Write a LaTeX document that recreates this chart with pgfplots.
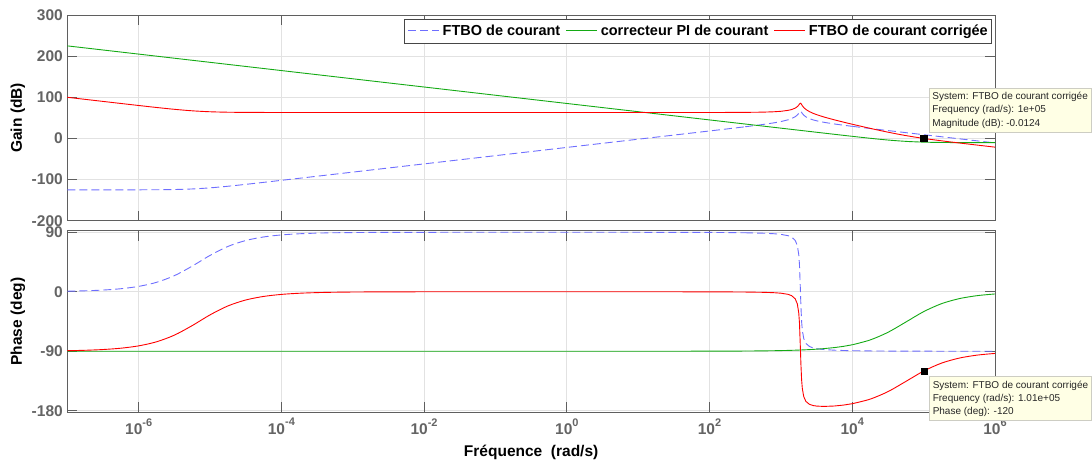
\documentclass[border=0pt]{standalone}
\usepackage{fontspec}
\setmainfont{Liberation Sans}
\usepackage{pgfplots}
\pgfplotsset{compat=1.18}
\usepackage{pgfplotstable}

\definecolor{framegray}{RGB}{95,95,95}
\definecolor{tickgray}{RGB}{100,100,100}
\definecolor{gridgray}{RGB}{226,226,226}
\definecolor{cblue}{RGB}{110,110,255}
\definecolor{cgreen}{RGB}{20,170,20}
\definecolor{cred}{RGB}{255,0,0}
\definecolor{tipfill}{RGB}{255,255,229}
\definecolor{tipdraw}{RGB}{205,205,195}
\definecolor{legdraw}{RGB}{70,70,70}

\newcommand{\ex}[1]{10\raisebox{0.55em}{\fontsize{11}{11}\selectfont\bfseries #1}}
\newcommand{\solidleg}[1]{\textcolor{#1}{\rule[4.75pt]{31pt}{0.9pt}}}
\newcommand{\dashleg}{\textcolor{cblue}{\rule[4.75pt]{8pt}{0.9pt}\hspace{4pt}\rule[4.75pt]{8pt}{0.9pt}\hspace{4pt}\rule[4.75pt]{7pt}{0.9pt}}}

% f = frequency (rad/s); B,PB = FTBO gain/phase; G,PG = PI; R,PR = corrected FTBO
\pgfplotstableread{
f B PB G PG R PR
1e-7 -125.00 0.82 224.96 -90.00 99.96 -89.18
1.778e-7 -125.00 1.46 219.96 -90.00 94.96 -88.54
3.162e-7 -124.99 2.59 214.96 -90.00 89.97 -87.41
5.623e-7 -124.97 4.59 209.96 -90.00 84.99 -85.41
1e-6 -124.91 8.13 204.96 -90.00 80.05 -81.87
1.778e-6 -124.73 14.26 199.96 -90.00 75.23 -75.74
3.162e-6 -124.19 24.32 194.96 -90.00 70.77 -65.68
5.623e-6 -122.84 38.78 189.96 -90.00 67.12 -51.22
1e-5 -120.17 55.01 184.96 -90.00 64.79 -34.99
1.778e-5 -116.27 68.52 179.96 -90.00 63.69 -21.48
3.162e-5 -111.69 77.52 174.96 -90.00 63.27 -12.48
5.623e-5 -106.83 82.91 169.96 -90.00 63.13 -7.09
1e-4 -101.88 86.00 164.96 -90.00 63.08 -4.00
1.778e-4 -96.89 87.75 159.96 -90.00 63.07 -2.25
3.162e-4 -91.90 88.73 154.96 -90.00 63.06 -1.27
5.623e-4 -86.90 89.29 149.96 -90.00 63.06 -0.71
1e-3 -81.90 89.60 144.96 -90.00 63.06 -0.40
1.778e-3 -76.90 89.77 139.96 -90.00 63.06 -0.23
3.162e-3 -71.90 89.87 134.96 -90.00 63.06 -0.13
1e-2 -61.90 89.96 124.96 -90.00 63.06 -0.04
3.162e-2 -51.90 89.99 114.96 -90.00 63.06 -0.01
1e-1 -41.90 90.00 104.96 -90.00 63.06 0.00
1 -21.90 90.00 84.96 -90.00 63.06 0.00
10 -1.90 89.98 64.96 -89.99 63.06 -0.01
31.62 8.10 89.93 54.96 -89.97 63.06 -0.04
100 18.12 89.77 44.96 -89.90 63.08 -0.13
177.8 23.18 89.60 39.96 -89.82 63.14 -0.23
316.2 28.35 89.27 34.97 -89.69 63.32 -0.42
}\lowtab

\pgfplotstableread{
f B PB G PG R PR
316.2 28.35 89.27 34.97 -89.69 63.32 -0.42
562.3 33.91 88.61 29.96 -89.44 63.87 -0.84
794.3 37.80 87.82 26.96 -89.22 64.76 -1.40
1000 40.98 86.86 24.96 -89.01 65.94 -2.16
1258.9 45.24 84.86 22.96 -88.76 68.20 -3.89
1412.5 48.26 82.72 21.96 -88.60 70.22 -5.89
1584.9 52.69 77.81 20.96 -88.43 73.65 -10.62
1698.2 56.89 69.98 20.36 -88.32 77.25 -18.34
1778.3 61.10 56.23 19.96 -88.24 81.06 -32.01
1819.7 63.74 41.07 19.76 -88.20 83.50 -47.13
1879.3 66.20 0.00 19.48 -88.14 85.68 -88.14
1905.5 65.63 -20.48 19.37 -88.12 85.00 -108.60
1949.8 63.20 -44.89 19.17 -88.07 82.37 -132.96
1995.3 60.61 -58.30 18.97 -88.03 79.57 -146.33
2089.3 56.55 -70.78 18.57 -87.94 75.11 -158.72
2238.7 52.47 -78.12 17.97 -87.79 70.43 -165.91
2511.9 48.12 -82.83 16.97 -87.52 65.09 -170.35
2818.4 45.13 -84.92 15.97 -87.22 61.10 -172.14
3162.3 42.82 -86.11 14.97 -86.88 57.79 -172.99
3981.1 39.24 -87.43 12.98 -86.07 52.22 -173.50
5623.4 35.09 -88.41 10.00 -84.46 45.09 -172.87
7498.9 32.12 -88.87 7.53 -82.63 39.65 -171.50
10000 29.37 -89.17 5.09 -80.21 34.46 -169.38
}\midtab

\pgfplotstableread{
f B PB G PG R PR
10000 29.37 -89.17 5.09 -80.21 34.46 -169.38
17783 24.16 -89.55 0.35 -72.94 24.51 -162.49
31623 19.09 -89.75 -3.91 -61.38 15.18 -151.13
56234 14.07 -89.86 -7.16 -45.86 6.91 -135.72
100000 9.06 -89.92 -9.04 -30.09 0.02 -120.01
177828 4.06 -89.96 -9.86 -18.05 -5.80 -108.01
316228 -0.94 -89.97 -10.16 -10.38 -11.10 -100.35
562341 -5.94 -89.98 -10.25 -5.88 -16.19 -95.86
1000000 -10.94 -89.99 -10.29 -3.32 -21.23 -93.31
}\hightab

\tikzset{
  tipbox/.style={draw=tipdraw, fill=tipfill, line width=0.6pt, align=left,
    font=\fontsize{10}{13.2}\selectfont, text=black!85, inner xsep=3.5pt, inner ysep=4pt},
  legbox/.style={draw=legdraw, line width=0.8pt, fill=white, text=black,
    font=\fontsize{14.5}{14.5}\selectfont\bfseries, inner xsep=3.8pt, inner ysep=5.2pt},
}

\begin{document}
\begin{tikzpicture}
\path[use as bounding box] (0pt,0pt) rectangle (1092pt,461pt);

\begin{axis}[
  at={(67.3pt,240.3pt)}, anchor=south west,
  scale only axis, width=927.7pt, height=205.7pt,
  xmode=log, xmin=1e-7, xmax=1e6,
  xtick={1e-6,1e-4,1e-2,1,1e2,1e4,1e6},
  xticklabels={},
  xminorticks=false, yminorticks=false,
  ymin=-200, ymax=300,
  ytick={-200,-100,0,100,200,300},
  yticklabels={-200,-100,0,100,200,300},
  grid=major,
  major grid style={draw=gridgray, line width=0.8pt},
  axis line style={draw=framegray, line width=0.8pt},
  tick style={draw=framegray, line width=0.8pt},
  major tick length=10pt,
  tick align=inside,
  clip=false,
  tick label style={font=\fontsize{15.5}{15.5}\selectfont\bfseries, text=tickgray},
  yticklabel style={xshift=-1pt},
  label style={font=\fontsize{15.5}{16}\selectfont\bfseries, text=black},
  ylabel style={at={(axis description cs:-0.05314,0.5)}, anchor=center},
  ylabel={Gain (dB)},
]
\addplot[color=cblue, line width=0.9pt, dash pattern=on 8pt off 4pt, smooth] table[x=f, y=B] {\lowtab};
\addplot[color=cgreen, line width=0.9pt, smooth] table[x=f, y=G] {\lowtab};
\addplot[color=cred, line width=0.9pt, smooth] table[x=f, y=R] {\lowtab};
\addplot[color=cblue, line width=0.9pt, dash pattern=on 8pt off 4pt] table[x=f, y=B] {\midtab};
\addplot[color=cgreen, line width=0.9pt] table[x=f, y=G] {\midtab};
\addplot[color=cred, line width=0.9pt] table[x=f, y=R] {\midtab};
\addplot[color=cblue, line width=0.9pt, dash pattern=on 8pt off 4pt, smooth] table[x=f, y=B] {\hightab};
\addplot[color=cgreen, line width=0.9pt, smooth] table[x=f, y=G] {\hightab};
\addplot[color=cred, line width=0.9pt, smooth] table[x=f, y=R] {\hightab};
\addplot[only marks, mark=square*, mark size=3.2pt, mark options={fill=black, draw=black}] coordinates {(1e5,-0.0124)};
\node[tipbox, anchor=south west, xshift=5pt, yshift=6pt] at (axis cs:1e5,-0.0124)
  {System: FTBO de courant corrigée\\Frequency (rad/s): 1e+05\\Magnitude (dB): -0.0124};
\node[legbox, anchor=north east, xshift=-3pt, yshift=-4pt] at (axis description cs:1,1)
  {\dashleg\hspace{3.5pt}FTBO de courant\hspace{6pt}\solidleg{cgreen}\hspace{3.5pt}correcteur PI de courant\hspace{6pt}\solidleg{cred}\hspace{3.5pt}FTBO de courant corrigée};
\end{axis}

\begin{axis}[
  at={(67.3pt,48.7pt)}, anchor=south west,
  scale only axis, width=927.7pt, height=181.6pt,
  xmode=log, xmin=1e-7, xmax=1e6,
  xtick={1e-6,1e-4,1e-2,1,1e2,1e4,1e6},
  xticklabels={\ex{-6},\ex{-4},\ex{-2},\ex{0},\ex{2},\ex{4},\ex{6}},
  xticklabel style={yshift=-2.5pt},
  xminorticks=false, yminorticks=false,
  ymin=-182.4, ymax=92.4,
  ytick={-180,-90,0,90},
  yticklabels={-180,-90,0,90},
  grid=major,
  major grid style={draw=gridgray, line width=0.8pt},
  axis line style={draw=framegray, line width=0.8pt},
  tick style={draw=framegray, line width=0.8pt},
  major tick length=10pt,
  tick align=inside,
  clip=false,
  tick label style={font=\fontsize{15.5}{15.5}\selectfont\bfseries, text=tickgray},
  yticklabel style={xshift=-1pt},
  label style={font=\fontsize{15.5}{16}\selectfont\bfseries, text=black},
  ylabel style={at={(axis description cs:-0.05314,0.5)}, anchor=center},
  ylabel={Phase (deg)},
  xlabel={Fréquence\ \ (rad/s)},
  xlabel style={at={(axis description cs:0.5,-0.2186)}, anchor=center},
]
\addplot[color=cblue, line width=0.9pt, dash pattern=on 8pt off 4pt, smooth] table[x=f, y=PB] {\lowtab};
\addplot[color=cgreen, line width=0.9pt, smooth] table[x=f, y=PG] {\lowtab};
\addplot[color=cred, line width=0.9pt, smooth] table[x=f, y=PR] {\lowtab};
\addplot[color=cblue, line width=0.9pt, dash pattern=on 8pt off 4pt] table[x=f, y=PB] {\midtab};
\addplot[color=cgreen, line width=0.9pt] table[x=f, y=PG] {\midtab};
\addplot[color=cred, line width=0.9pt] table[x=f, y=PR] {\midtab};
\addplot[color=cblue, line width=0.9pt, dash pattern=on 8pt off 4pt, smooth] table[x=f, y=PB] {\hightab};
\addplot[color=cgreen, line width=0.9pt, smooth] table[x=f, y=PG] {\hightab};
\addplot[color=cred, line width=0.9pt, smooth] table[x=f, y=PR] {\hightab};
\addplot[only marks, mark=square*, mark size=3.2pt, mark options={fill=black, draw=black}] coordinates {(1.01e5,-120)};
\node[tipbox, anchor=north west, xshift=5pt, yshift=-5.4pt] at (axis cs:1.01e5,-120)
  {System: FTBO de courant corrigée\\Frequency (rad/s): 1.01e+05\\Phase (deg): -120};
\end{axis}
\end{tikzpicture}
\end{document}
